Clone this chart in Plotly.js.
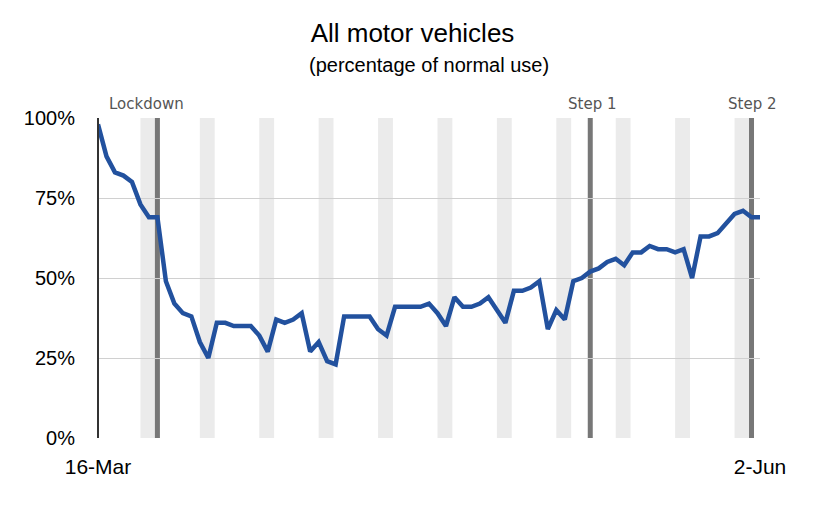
<!DOCTYPE html>
<html>
<head>
<meta charset="utf-8">
<script src="https://cdn.plot.ly/plotly-3.0.1.min.js"></script>
<style>html,body{margin:0;padding:0;background:#fff}</style>
</head>
<body>
<div id="chart" style="width:825px;height:505px"></div>
<script>
// daily share of normal motor vehicle use, 16 Mar - 2 Jun 2020
let start_date = "2020-03-16"
let usage_pct = [
  98, 88, 83, 82, 80, 73, 69, 69, 49, 42, 39, 38, 30, 25, 36, 36,
  35, 35, 35, 32, 27, 37, 36, 37, 39, 27, 30, 24, 23, 38, 38, 38, 38, 34, 32,
  41, 41, 41, 41, 42, 39, 35, 44, 41, 41, 42,
  44, 40, 36, 46, 46, 47, 49, 34, 40, 37, 49, 50, 52, 53, 55, 56, 54,
  58, 58, 60, 59, 59, 58, 59, 50, 63, 63, 64, 67, 70, 71,
  69, 69
]
let event_dates = ["2020-03-23", "2020-05-13", "2020-06-01"]
let event_labels = ["Lockdown", "Step 1", "Step 2"]
let tick_vals = ["2020-03-16", "2020-06-02"]
let tick_text = ["16-Mar", "2-Jun"]
let y_tick_vals = [0, 25, 50, 75, 100]
let y_tick_text = ["0%", "25%", "50%", "75%", "100%"]

function add_days(iso, n) {
  let d = new Date(iso + "T00:00:00Z")
  d.setUTCDate(d.getUTCDate() + n)
  return d.toISOString().slice(0, 10)
}

let dates = usage_pct.map((_, i) => add_days(start_date, i))

let shapes = []
dates.forEach(d => {
  let wd = new Date(d + "T00:00:00Z").getUTCDay()
  if (wd === 6) {
    shapes.push({
      type: "rect", xref: "x", yref: "paper", layer: "below",
      x0: d, x1: add_days(d, 1) + " 18:00", y0: 0, y1: 1,
      fillcolor: "#ebebeb", line: { width: 0 },
    })
  }
})
event_dates.forEach(d => {
  shapes.push({
    type: "line", xref: "x", yref: "paper", layer: "below",
    x0: d, x1: d, y0: 0, y1: 1,
    line: { color: "#777777", width: 5 },
  })
})

let annotations = event_dates.map((d, i) => ({
  x: d, y: 1.01, xref: "x", yref: "paper", yanchor: "bottom",
  xanchor: i === 0 ? "left" : "center",
  xshift: i === 0 ? -50 : (i === 1 ? 2 : 0),
  text: event_labels[i], showarrow: false,
  font: { family: "DejaVu Sans", size: 15, color: "#555" },
}))
annotations.push({
  x: 0.5, y: 1.165, xref: "paper", yref: "paper", yanchor: "middle",
  text: "(percentage of normal use)", showarrow: false,
  font: { family: "Liberation Sans, Arial", size: 20, color: "#000" },
})

let series = {
  x: dates, y: usage_pct, type: "scatter", mode: "lines",
  line: { color: "#22519e", width: 4.5 },
  hoverinfo: "x+y",
}

let layout = {
  width: 825, height: 505,
  margin: { l: 98, r: 65, t: 118, b: 67 },
  paper_bgcolor: "#fff", plot_bgcolor: "#fff",
  showlegend: false,
  title: {
    text: "All motor vehicles", x: 0.5, xanchor: "center", y: 0.935, yanchor: "middle",
    font: { family: "Liberation Sans, Arial", size: 26, color: "#000" },
  },
  xaxis: {
    range: ["2020-03-16", "2020-06-02"],
    tickvals: tick_vals, ticktext: tick_text,
    showgrid: false, zeroline: false, showline: false, ticks: "",
    ticklabelstandoff: 14,
    tickfont: { family: "Liberation Sans, Arial", size: 21, color: "#000" },
  },
  yaxis: {
    range: [0, 100], tickvals: y_tick_vals, ticktext: y_tick_text,
    showgrid: true, gridcolor: "#d0d0d0", zeroline: false, ticks: "",
    ticklabelstandoff: 22,
    tickfont: { family: "Liberation Sans, Arial", size: 20, color: "#000" },
  },
  shapes: shapes.concat([{
    type: "line", xref: "paper", yref: "paper", x0: 0, x1: 0, y0: 0, y1: 1,
    line: { color: "#333", width: 2 },
  }]),
  annotations: annotations,
}

Plotly.newPlot("chart", [series], layout, { displayModeBar: false, staticPlot: true })
</script>
</body>
</html>
